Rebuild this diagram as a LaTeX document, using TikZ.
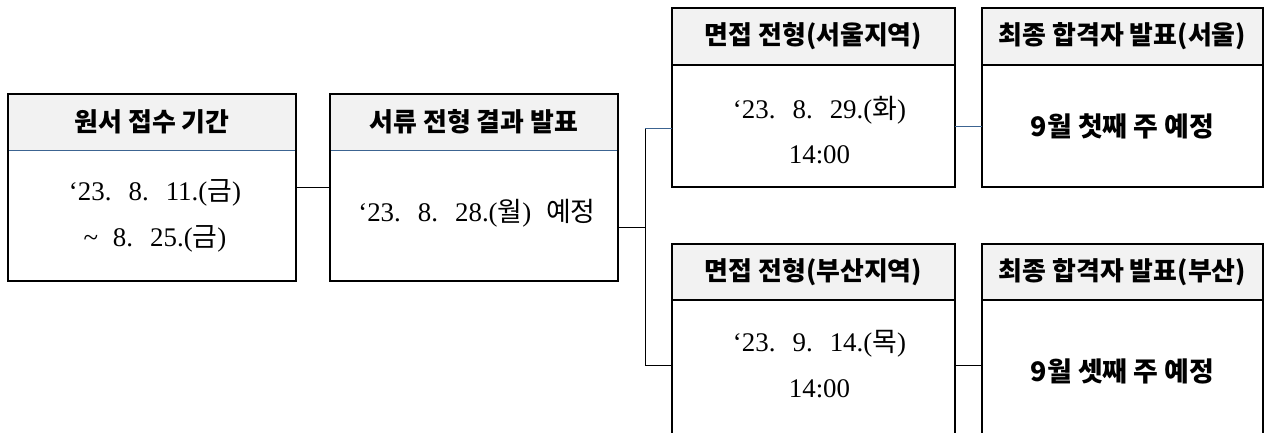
\documentclass[tikz,border=0pt]{standalone}
\usepackage{fontspec}
\setmainfont{Liberation Serif}
\newfontfamily\krh[WordSpace=2.4]{Noto Sans CJK KR}
\newfontfamily\krw[WordSpace=4.2]{Noto Sans CJK KR}
\newfontfamily\kr{Noto Sans CJK KR}
\newfontfamily\dt[WordSpace=2.2]{Liberation Serif}
\definecolor{hdrgray}{RGB}{242,242,242}
\definecolor{sepblue}{RGB}{60,100,145}
\tikzset{
  pl/.style={inner sep=0pt, outer sep=0pt},
  hdr/.style={pl, fill=hdrgray, font=\fontsize{26}{30}\selectfont\krh\bfseries},
  bdy/.style={pl, align=center, font=\fontsize{27}{46}\selectfont\dt},
  bdyb/.style={pl, align=center, font=\fontsize{27}{30}\selectfont\krh\bfseries},
  frm/.style={line width=2.2bp, draw=black},
  sepb/.style={line width=0.9bp, draw=sepblue},
  sepk/.style={line width=1.6bp, draw=black},
  con/.style={line width=0.9bp, draw=black},
  conb/.style={line width=0.9bp, draw=sepblue},
}
\begin{document}
\begin{tikzpicture}[x=1bp,y=-1bp]
\useasboundingbox (0,0) rectangle (1265,432);
% box 1
\node[pl, minimum width=288bp, minimum height=187bp, anchor=north west] (r1) at (8,94) {};
\node[hdr, minimum width=288bp, minimum height=56bp, anchor=north] (h1) at (r1.north) {\krw\bfseries 원서 접수 기간};
\node[pl, minimum width=288bp, minimum height=131bp, anchor=north] (b1) at (h1.south) {};
\node[bdy] (t1) at ([xshift=3bp]b1.center) {‘23. 8. 11.({\kr 금})\\{\textasciitilde} 8. 25.({\kr 금})};
\draw[sepb] (h1.south west) -- (h1.south east);
\draw[frm] (r1.north west) rectangle (r1.south east);
% box 2
\node[pl, minimum width=288bp, minimum height=187bp, anchor=north west] (r2) at (330,94) {};
\node[hdr, minimum width=288bp, minimum height=56bp, anchor=north] (h2) at (r2.north) {서류 전형 결과 발표};
\node[pl, minimum width=288bp, minimum height=131bp, anchor=north] (b2) at (h2.south) {};
\node[bdy] (t2) at ([xshift=3bp,yshift=2bp]b2.center) {‘23. 8. 28.({\kr 월}) {\kr 예정}};
\draw[sepb] (h2.south west) -- (h2.south east);
\draw[frm] (r2.north west) rectangle (r2.south east);
% box 3
\node[pl, minimum width=283bp, minimum height=179bp, anchor=north west] (r3) at (672,8) {};
\node[hdr, minimum width=283bp, minimum height=57bp, anchor=north] (h3) at (r3.north) {면접 전형(서울지역)};
\node[pl, minimum width=283bp, minimum height=122bp, anchor=north] (b3) at (h3.south) {};
\node[bdy] (t3) at ([xshift=6bp,yshift=-4bp]b3.center) {‘23. 8. 29.({\kr 화})\\14:00};
\draw[sepk] (h3.south west) -- (h3.south east);
\draw[frm] (r3.north west) rectangle (r3.south east);
% box 4
\node[pl, minimum width=281bp, minimum height=179bp, anchor=north west] (r4) at (982,8) {};
\node[hdr, minimum width=281bp, minimum height=57bp, anchor=north] (h4) at (r4.north) {최종 합격자 발표(서울)};
\node[pl, minimum width=281bp, minimum height=122bp, anchor=north] (b4) at (h4.south) {};
\node[bdyb] (t4) at (b4.center) {9월 첫째 주 예정};
\draw[sepk] (h4.south west) -- (h4.south east);
\draw[frm] (r4.north west) rectangle (r4.south east);
% box 5
\node[pl, minimum width=283bp, minimum height=190bp, anchor=north west] (r5) at (672,244) {};
\node[hdr, minimum width=283bp, minimum height=56bp, anchor=north] (h5) at (r5.north) {면접 전형(부산지역)};
\node[pl, minimum width=283bp, minimum height=134bp, anchor=north] (b5) at (h5.south) {};
\node[bdy] (t5) at ([xshift=6bp,yshift=3bp]b5.center) {‘23. 9. 14.({\kr 목})\\14:00};
\draw[sepk] (h5.south west) -- (h5.south east);
\draw[frm] (r5.north west) rectangle (r5.south east);
% box 6
\node[pl, minimum width=281bp, minimum height=190bp, anchor=north west] (r6) at (982,244) {};
\node[hdr, minimum width=281bp, minimum height=56bp, anchor=north] (h6) at (r6.north) {최종 합격자 발표(부산)};
\node[pl, minimum width=281bp, minimum height=134bp, anchor=north] (b6) at (h6.south) {};
\node[bdyb] (t6) at ([yshift=-4bp]b6.center) {9월 셋째 주 예정};
\draw[sepk] (h6.south west) -- (h6.south east);
\draw[frm] (r6.north west) rectangle (r6.south east);
% connectors
\coordinate (j) at (645,227);
\coordinate (jt) at (645,128);
\coordinate (jb) at (645,365);
\draw[con] (r1.east) -- (r2.west);
\draw[con] (r2.east |- j) -- (j);
\draw[con] (jt) -- (jb);
\draw[conb] (jt) -- (r3.west |- jt);
\draw[con] (jb) -- (r5.west |- jb);
\draw[conb] (b3.east) -- (b4.west);
\draw[con] (r5.east |- jb) -- (r6.west |- jb);
\end{tikzpicture}
\end{document}
